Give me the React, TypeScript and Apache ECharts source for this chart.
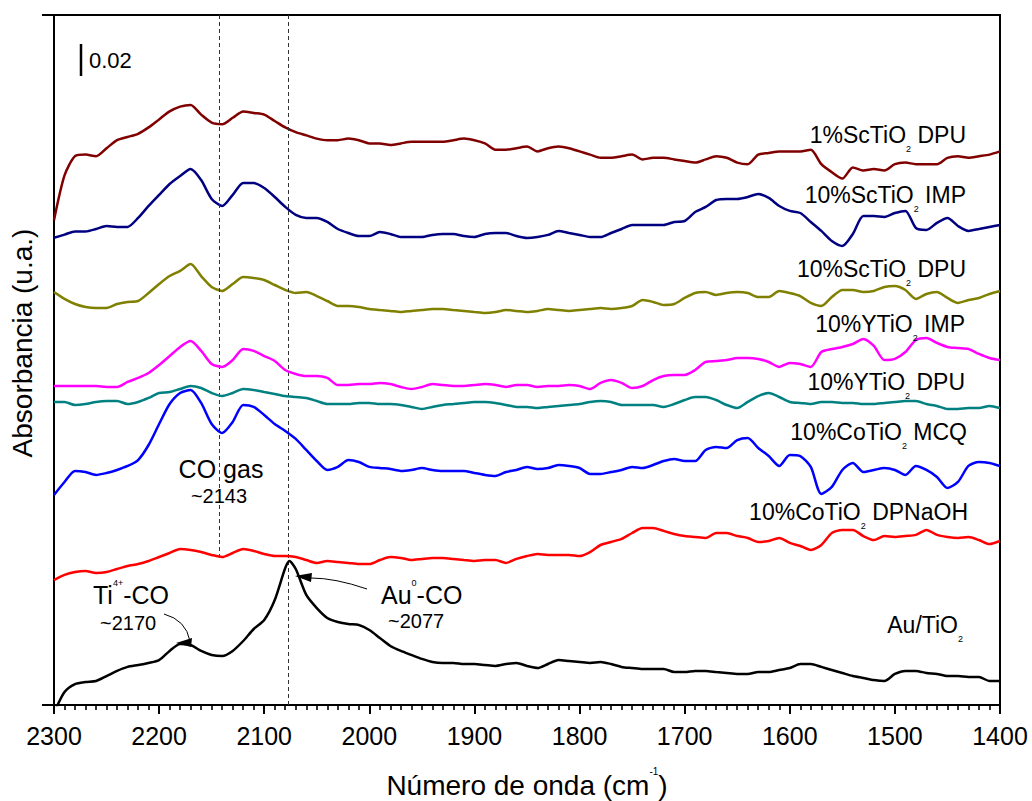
import React, { useEffect, useRef } from "react";
import * as echarts from "echarts";

const FONT = '"Liberation Sans", Arial, Helvetica, sans-serif';

// Wavenumber grid (cm-1), read every 10 cm-1
const wavenumbers = [
  2300, 2290, 2280, 2270, 2260, 2250, 2240, 2230, 2220, 2210,
  2200, 2190, 2180, 2170, 2160, 2150, 2140, 2130, 2120, 2110,
  2100, 2090, 2080, 2070, 2060, 2050, 2040, 2030, 2020, 2010,
  2000, 1990, 1980, 1970, 1960, 1950, 1940, 1930, 1920, 1910,
  1900, 1890, 1880, 1870, 1860, 1850, 1840, 1830, 1820, 1810,
  1800, 1790, 1780, 1770, 1760, 1750, 1740, 1730, 1720, 1710,
  1700, 1690, 1680, 1670, 1660, 1650, 1640, 1630, 1620, 1610,
  1600, 1590, 1580, 1570, 1560, 1550, 1540, 1530, 1520, 1510,
  1500, 1490, 1480, 1470, 1460, 1450, 1440, 1430, 1420, 1410, 1400,
];

// Stacked absorbance (mAbs, offset spectra)
const sc1DPU = [
  303, 331, 343, 344, 343, 348, 353, 355, 357, 361,
  366, 371, 374, 375, 369, 364, 363, 367, 371, 370,
  369, 365, 361, 358, 356, 354, 353, 353, 354, 353,
  351, 351, 350, 351, 352, 352, 352, 352, 353, 354,
  353, 351, 347, 347, 348, 349, 346, 348, 349, 348,
  346, 344, 342, 342, 343, 344, 341, 342, 342, 341,
  340, 339, 341, 343, 342, 339, 338, 344, 345, 346,
  346, 346, 347, 338, 333, 329, 336, 334, 335, 334,
  338, 339, 338, 338, 338, 342, 343, 342, 343, 344, 346,
];
const sc10IMP = [
  292, 294, 296, 296, 297.5, 299.4, 298.8, 298.8, 304.4, 311.9,
  318.8, 325.6, 330.6, 335, 328.1, 316.3, 311.9, 318.8, 326.3, 326.3,
  323.1, 317.5, 311.3, 306.3, 304.4, 304.4, 301.9, 297.5, 295, 293.1,
  293.1, 295.6, 294.4, 292.5, 292.5, 292.5, 293.8, 294.4, 294.4, 293.1,
  292.5, 294.4, 295, 295, 293.1, 291.9, 292.5, 293.8, 296.3, 295,
  293.8, 292.5, 292.5, 295, 297.5, 300, 300, 300, 300, 301.9,
  302.5, 308.1, 311.3, 315.6, 316.3, 316.3, 317.5, 319.4, 316.9, 311.9,
  308.8, 307.5, 301.9, 296.3, 290, 286.9, 294.4, 305.6, 305.6, 305,
  307.5, 308.8, 298.1, 296.9, 301.3, 304.4, 299.4, 296.3, 297.5, 298.8, 300,
];
const sc10DPU = [
  258.1, 253.8, 250.6, 248.8, 248.1, 248.1, 250.6, 251.9, 252.5, 257.5,
  263.1, 268.1, 271.3, 275.6, 268.1, 261.3, 258.8, 263.1, 267.5, 266.9,
  265.6, 262.5, 259.4, 257.5, 258.1, 255.6, 252.5, 249.4, 249.4, 248.8,
  247.5, 246.9, 246.3, 245.6, 246.3, 246.9, 247.5, 247.5, 246.9, 246.3,
  245.6, 245, 245.6, 246.9, 246.3, 245.6, 246.3, 247.5, 246.9, 246.3,
  246.9, 247.5, 248.1, 247.5, 248.1, 249.4, 253.1, 251.9, 250, 250.6,
  254.4, 257.5, 258.1, 256.3, 257.5, 258.1, 257.5, 255, 255, 258.8,
  257.5, 255.6, 251.3, 249.4, 255, 259.4, 259.4, 258.1, 258.8, 261.3,
  261.9, 259.4, 253.8, 256.9, 258.1, 254.4, 251.3, 253.1, 254.4, 256.9, 258.8,
];
const y10IMP = [
  199.4, 199.4, 199.4, 199.4, 199.4, 198.8, 198.8, 201.9, 204.4, 207.5,
  212.5, 218.1, 223.8, 227.5, 221.3, 213.1, 211.3, 215.6, 222.5, 221.3,
  218.1, 215, 209.4, 206.9, 205.6, 205.6, 204.4, 200, 200, 200.6,
  200.6, 201.3, 200.6, 198.8, 197.5, 198.8, 200.6, 200, 199.4, 199.4,
  200, 200.6, 200, 198.8, 200, 200, 198.8, 199.4, 199.4, 200,
  199.4, 197.5, 201.3, 203.1, 201.3, 198.1, 199.4, 203.1, 205.6, 206.3,
  206.3, 209.4, 214.4, 215, 215.6, 216.9, 216.9, 216.3, 214.4, 211.3,
  213.8, 213.1, 211.3, 220.6, 222.5, 223.8, 225.6, 228.8, 224.4, 215.6,
  216.3, 220.6, 228.1, 229.4, 226.3, 223.8, 223.1, 222.5, 219.4, 216.9, 215.6,
];
const y10DPU = [
  189.4, 189.4, 187.5, 188.1, 189.4, 190, 190, 188.1, 189.4, 191.9,
  195, 195.6, 197.5, 199.4, 198.1, 195, 193.1, 195, 197.5, 196.9,
  195.6, 194.4, 193.1, 192.5, 191.9, 190, 188.1, 188.1, 188.1, 188.8,
  188.8, 188.1, 188.1, 187.5, 186.3, 185, 186.3, 187.5, 188.1, 188.8,
  189.4, 189.4, 188.8, 187.5, 186.3, 186.3, 185.6, 186.3, 186.9, 187.5,
  188.1, 189.4, 190, 189.4, 187.5, 187.5, 187.5, 187.5, 186.3, 188.1,
  190.6, 192.5, 192.5, 190.6, 187.5, 185.6, 189.4, 193.1, 195, 192.5,
  189.4, 188.8, 188.1, 189.4, 189.4, 188.8, 188.8, 188.1, 188.1, 188.8,
  189.4, 190, 190, 188.1, 186.9, 185, 185, 185.6, 185.6, 186.9, 185.6,
];
const co10MCQ = [
  131.3, 139.4, 146.3, 145.6, 143.8, 145, 146.9, 149.4, 153.1, 162.5,
  175.6, 188.1, 195, 196.9, 188.8, 175.6, 170, 176.9, 187.5, 186.3,
  181.3, 175.6, 171.3, 166.3, 159.4, 152.5, 146.9, 148.8, 153.1, 151.9,
  148.8, 148.1, 147.5, 146.3, 146.9, 148.1, 146.9, 146.3, 146.3, 146.3,
  145, 143.8, 143.1, 145.6, 146.9, 148.8, 147.5, 148.1, 150, 149.4,
  148.1, 144.4, 144.4, 145.6, 146.9, 148.8, 148.1, 150, 152.5, 153.8,
  152.5, 152.5, 159.4, 161.3, 160.6, 165.6, 166.9, 160.6, 155.6, 149.4,
  156.3, 155.6, 148.8, 131.9, 136.3, 146.9, 151.3, 145.6, 146.9, 148.1,
  146.9, 143.8, 149.4, 146.9, 142.5, 135.6, 139.4, 149.4, 151.9, 151.3, 149.4,
];
const co10DPNaOH = [
  78.1, 81.3, 83.1, 83.8, 82.5, 83.1, 85, 86.9, 88.1, 90,
  92.5, 95, 97.5, 96.9, 95.6, 93.8, 92.5, 95, 97.5, 96.3,
  94.4, 93.1, 93.1, 92.5, 90.6, 88.8, 90, 89.4, 88.8, 88.1,
  88.1, 90.6, 92.5, 91.9, 90.6, 91.3, 91.9, 91.9, 91.3, 90.6,
  90, 90.6, 90.6, 88.8, 91.3, 93.1, 94.4, 93.8, 93.8, 93.8,
  93.1, 95.6, 100, 101.9, 103.8, 107.5, 110.6, 110.6, 108.8, 106.9,
  105.6, 105, 104.4, 107.5, 107.5, 105.6, 104.4, 101.9, 102.5, 104.4,
  101.3, 99.4, 96.9, 100, 107.5, 109.4, 109.4, 105.6, 103.1, 105.6,
  105, 105.6, 106.3, 109.4, 106.3, 105, 104.4, 105, 103.1, 100.6, 102.5,
];
const auTiO2 = [
  -5, 8.1, 13.1, 14.4, 15, 18.1, 21.3, 23.8, 25, 26.3,
  28.1, 33.8, 38.1, 37.5, 33.8, 31.3, 30.6, 33.8, 40, 47.5,
  53.1, 65.6, 85.6, 85, 68.8, 60.6, 54.4, 51.9, 50.6, 50,
  46.9, 41.9, 36.9, 33.8, 31.3, 28.8, 26.9, 26.3, 26.3, 25.6,
  25.6, 25, 24.4, 25.6, 26.3, 24.4, 23.1, 25.6, 28.1, 27.5,
  26.9, 26.3, 26.9, 25.6, 23.8, 23.1, 22.5, 22.5, 22.5, 20.6,
  20.6, 21.3, 21.3, 20.6, 20, 19.4, 19.4, 20.6, 20.6, 21.9,
  23.1, 25.6, 25.6, 23.8, 21.9, 20, 18.1, 16.9, 15.6, 15,
  19.4, 21.3, 21.3, 20, 19.4, 18.1, 18.1, 17.5, 17.5, 15, 15,
];
// Au0-CO band maximum (between grid points)
const auPeak = [2076, 90];

const seriesNames = [
  "1%ScTiO2 DPU",
  "10%ScTiO2 IMP",
  "10%ScTiO2 DPU",
  "10%YTiO2 IMP",
  "10%YTiO2 DPU",
  "10%CoTiO2 MCQ",
  "10%CoTiO2 DPNaOH",
  "Au/TiO2",
];
const seriesValues = [sc1DPU, sc10IMP, sc10DPU, y10IMP, y10DPU, co10MCQ, co10DPNaOH, auTiO2];
const xTicks = [1400, 2300, 100];
const refBands = [2143, 2077]; // CO gas, Au0-CO
const scaleBarValue = "0.02";

// styles
const colors = ["#800000", "#000080", "#808000", "#FF00FF", "#008080", "#0000FF", "#FF0000", "#000000"];
const labelPre = ["1%ScTiO", "10%ScTiO", "10%ScTiO", "10%YTiO", "10%YTiO", "10%CoTiO", "10%CoTiO", "Au/TiO"];
const labelPost = [" DPU", " IMP", " DPU", " IMP", " DPU", " MCQ", " DPNaOH", ""];
const labelBaselines = [143, 203, 277, 332, 390, 440, 520, 633];
const labelRight = [966, 966, 966, 965, 965, 967, 968, 963];

const YMAX = 431.25;

let ctx: CanvasRenderingContext2D | null = null;
function measure(text: string, size: number, weight = "normal") {
  if (!ctx) ctx = document.createElement("canvas").getContext("2d");
  ctx!.font = `${weight} ${size}px ${FONT}`;
  return ctx!.measureText(text).width;
}

type Run = { t: string; size: number; dy?: number; weight?: string };

function runs(list: Run[], x0: number, baseline: number, align: "left" | "right" | "center") {
  const widths = list.map((r) => measure(r.t, r.size, r.weight));
  const total = widths.reduce((a, b) => a + b, 0);
  let x = align === "left" ? x0 : align === "right" ? x0 - total : x0 - total / 2;
  const els: any[] = [];
  list.forEach((r, i) => {
    const trimmed = r.t.replace(/^\s+/, "");
    const lead = r.t.length - trimmed.length;
    const off = lead ? measure(" ".repeat(lead), r.size, r.weight) : 0;
    if (trimmed.length) {
      els.push({
        type: "text",
        x: x + off,
        y: baseline + (r.dy || 0) - 0.35 * r.size,
        z: 100,
        style: {
          text: trimmed,
          fontSize: r.size,
          fontFamily: FONT,
          fontWeight: r.weight || "normal",
          fill: "#000",
          align: "left",
          verticalAlign: "middle",
        },
      });
    }
    x += widths[i];
  });
  return els;
}

export default function App() {
  const ref = useRef<HTMLDivElement>(null);

  useEffect(() => {
    if (!ref.current) return;
    const chart = echarts.init(ref.current, null, { renderer: "svg" });

    const series: any[] = seriesValues.map((vals, si) => {
      let data: number[][] = wavenumbers.map((w, i) => [w, vals[i]]);
      if (si === seriesValues.length - 1) {
        data = data.concat([auPeak]).sort((a, b) => b[0] - a[0]);
      }
      const s: any = {
        name: seriesNames[si],
        type: "line",
        data,
        showSymbol: false,
        symbol: "none",
        smooth: 0.25,
        clip: true,
        lineStyle: { color: colors[si], width: 2.5 },
        itemStyle: { color: colors[si] },
        z: 2 + si,
      };
      if (si === seriesValues.length - 1) {
        s.markLine = {
          silent: true,
          symbol: ["none", "none"],
          label: { show: false },
          lineStyle: { type: [4, 3], color: "#333", width: 1 },
          data: [
            [{ coord: [refBands[0], YMAX] }, { coord: [refBands[0], 92] }],
            [{ coord: [refBands[1], YMAX] }, { coord: [refBands[1], 0] }],
          ],
        };
      }
      return s;
    });

    chart.setOption({
      animation: false,
      grid: { left: 54, right: 32, top: 15, bottom: 96, show: true, borderColor: "#000", borderWidth: 2 },
      xAxis: {
        type: "value",
        position: "bottom",
        inverse: true,
        min: xTicks[0],
        max: xTicks[1],
        interval: xTicks[2],
        axisLine: { show: true, onZero: false, lineStyle: { color: "#000", width: 2 } },
        axisTick: { show: true, length: 9, lineStyle: { color: "#000", width: 2 } },
        minorTick: { show: true, splitNumber: 10, length: 5, lineStyle: { color: "#000", width: 1.6 } },
        axisLabel: {
          color: "#000",
          fontSize: 25,
          fontFamily: FONT,
          margin: 18,
          formatter: (v: number) => String(v),
        },
        splitLine: { show: false },
      },
      yAxis: {
        type: "value",
        min: 0,
        max: YMAX,
        axisLine: { show: true, onZero: false, lineStyle: { color: "#000", width: 2 } },
        axisTick: { show: false },
        axisLabel: { show: false },
        splitLine: { show: false },
      },
      series,
    });

    const toPx = (v: number, y: number) => {
      const r: any = chart.convertToPixel({ seriesIndex: 0 }, [v, y]);
      return r as number[];
    };

    const graphics: any[] = [];
    const [xLeft, yBottom] = toPx(xTicks[1], 0);
    const yTop = toPx(xTicks[1], YMAX)[1];
    // y-axis end ticks (outward)
    [yBottom, yTop].forEach((py) => {
      graphics.push({
        type: "line",
        z: 1000,
        shape: { x1: xLeft - 12, y1: py, x2: xLeft, y2: py },
        style: { stroke: "#000", lineWidth: 2 },
      });
    });

    // series labels
    seriesNames.forEach((_, i) => {
      graphics.push(
        ...runs(
          [
            { t: labelPre[i], size: 23 },
            { t: "2", size: 9, dy: 9 },
            { t: labelPost[i], size: 23 },
          ],
          labelRight[i],
          labelBaselines[i],
          "right"
        )
      );
    });
    // annotations
    graphics.push(...runs([{ t: "CO gas", size: 25 }], 221, 478, "center"));
    graphics.push(...runs([{ t: "~" + refBands[0], size: 20 }], 219, 503, "center"));
    graphics.push(
      ...runs(
        [
          { t: "Ti", size: 25 },
          { t: "4+", size: 9, dy: -18 },
          { t: "-CO", size: 25 },
        ],
        93,
        604,
        "left"
      )
    );
    graphics.push(...runs([{ t: "~2170", size: 20 }], 100, 630, "left"));
    graphics.push(
      ...runs(
        [
          { t: "Au", size: 25 },
          { t: "0", size: 9, dy: -18 },
          { t: "-CO", size: 25 },
        ],
        381,
        604,
        "left"
      )
    );
    graphics.push(...runs([{ t: "~" + refBands[1], size: 20 }], 388, 628, "left"));
    // arrows
    graphics.push({
      type: "bezierCurve",
      z: 100,
      shape: { x1: 164, y1: 614, x2: 190, y2: 641, cpx1: 186, cpy1: 620 },
      style: { stroke: "#000", lineWidth: 1, fill: null },
    });
    graphics.push({
      type: "polygon",
      z: 100,
      shape: { points: [[176, 643], [192, 638], [191, 647]] },
      style: { fill: "#000" },
    });
    graphics.push({
      type: "bezierCurve",
      z: 100,
      shape: { x1: 367, y1: 589, x2: 311, y2: 578, cpx1: 335, cpy1: 578 },
      style: { stroke: "#000", lineWidth: 1, fill: null },
    });
    graphics.push({
      type: "polygon",
      z: 100,
      shape: { points: [[295, 576], [312, 573], [311, 582]] },
      style: { fill: "#000" },
    });
    // scale bar
    graphics.push({
      type: "line",
      z: 100,
      shape: { x1: 81, y1: 44, x2: 81, y2: 76 },
      style: { stroke: "#000", lineWidth: 2.5 },
    });
    graphics.push(...runs([{ t: scaleBarValue, size: 22 }], 89, 68, "left"));
    // axis titles
    graphics.push(
      ...runs(
        [
          { t: "Número de onda (cm", size: 28 },
          { t: "-1", size: 10, dy: -20 },
          { t: ")", size: 28 },
        ],
        527,
        795,
        "center"
      )
    );
    graphics.push({
      type: "text",
      x: 22,
      y: 343,
      rotation: Math.PI / 2,
      z: 100,
      style: {
        text: "Absorbancia (u.a.)",
        fontSize: 28,
        fontFamily: FONT,
        fill: "#000",
        align: "center",
        verticalAlign: "middle",
      },
    });

    chart.setOption({ graphic: graphics });

    return () => chart.dispose();
  }, []);

  return (
    <div
      ref={ref}
      style={{ position: "absolute", left: 0, top: 0, width: 1032, height: 801, background: "#fff" }}
    />
  );
}
